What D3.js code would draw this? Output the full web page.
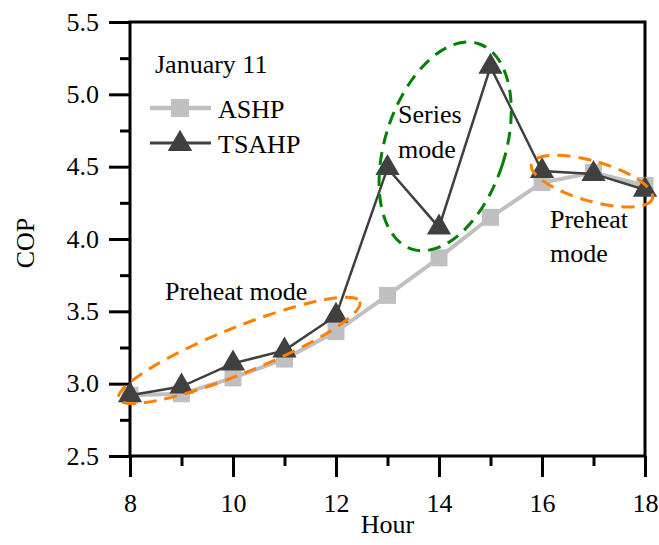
<!DOCTYPE html>
<html>
<head>
<meta charset="utf-8">
<script src="https://cdn.jsdelivr.net/npm/d3@7"></script>
<style>
  body { margin: 0; background: #fff; }
  #chart-area { width: 659px; height: 545px; }
  text { font-family: "Liberation Serif", "Times New Roman", serif; fill: #000; }
</style>
</head>
<body>
<div id="chart-area"></div>
<script>

// Hours on the x axis
let hours = [8, 9, 10, 11, 12, 13, 14, 15, 16, 17, 18];

// COP values
let ashpCOP  = [2.92, 2.93, 3.04, 3.17, 3.36, 3.61, 3.87, 4.15, 4.39, 4.46, 4.37];
let tsahpCOP = [2.92, 2.98, 3.14, 3.23, 3.47, 4.49, 4.08, 5.19, 4.47, 4.45, 4.34];

// tick labels
let xTickValues = [8, 10, 12, 14, 16, 18];
let yTickValues = [2.5, 3.0, 3.5, 4.0, 4.5, 5.0, 5.5];

// mode annotations (centre in data units)
let modeLabels = ["Preheat mode", "Series mode", "Preheat mode"];
let modeCentreHour = [10.12, 14.12, 16.97];
let modeCentreCOP  = [3.23, 4.64, 4.40];


class LineChart {

constructor(parentElement) {
    this.parentElement = parentElement;
    this.series = [
        {name: "ASHP", values: ashpCOP, color: "#c0c0c0", width: 4, marker: "square"},
        {name: "TSAHP", values: tsahpCOP, color: "#404040", width: 2.5, marker: "triangle"}
    ];
}

	initVis(){
		let vis = this;

		vis.margin = {top: 22, right: 14, bottom: 89, left: 130};
		vis.width = 659 - vis.margin.left - vis.margin.right;
		vis.height = 545 - vis.margin.top - vis.margin.bottom;

		vis.svg = d3.select("#" + vis.parentElement).append("svg")
			.attr("width", 659)
			.attr("height", 545)
			.append("g")
			.attr("transform", "translate(" + vis.margin.left + "," + vis.margin.top + ")");

		// Scales
		vis.x = d3.scaleLinear()
			.domain([8, 18])
			.range([0, vis.width]);

		vis.y = d3.scaleLinear()
			.domain([2.5, 5.5])
			.range([vis.height, 0]);

		vis.updateVis();
	}

	updateVis(){
		let vis = this;

		// minor ticks (no labels)
		let xMinor = d3.axisBottom(vis.x).tickValues(d3.range(9, 18, 2)).tickSize(10).tickFormat("");
		let yMinor = d3.axisLeft(vis.y).tickValues(d3.range(2.75, 5.5, 0.5)).tickSize(10).tickFormat("");

		// major ticks
		let xAxis = d3.axisBottom(vis.x).tickValues(xTickValues).tickSize(21).tickPadding(17).tickFormat(d3.format("d"));
		let yAxis = d3.axisLeft(vis.y).tickValues(yTickValues).tickSize(21).tickPadding(10).tickFormat(d3.format(".1f"));

		vis.svg.append("g").attr("class", "axis").attr("transform", "translate(0," + vis.height + ")").call(xMinor);
		vis.svg.append("g").attr("class", "axis").call(yMinor);
		vis.svg.append("g").attr("class", "axis").attr("transform", "translate(0," + vis.height + ")").call(xAxis);
		vis.svg.append("g").attr("class", "axis").call(yAxis);

		vis.svg.selectAll(".axis path").remove();
		vis.svg.selectAll(".axis line").attr("stroke", "#000").attr("stroke-width", 3);
		vis.svg.selectAll(".axis text").attr("font-size", 26).attr("fill", "#000")
			.style("font-family", "'Liberation Serif', 'Times New Roman', serif");

		// frame
		vis.svg.append("rect")
			.attr("x", 0).attr("y", 0)
			.attr("width", vis.width).attr("height", vis.height)
			.attr("fill", "none").attr("stroke", "#000").attr("stroke-width", 3);

		// axis titles
		vis.svg.append("text")
			.attr("x", vis.width / 2).attr("y", vis.height + 77)
			.attr("text-anchor", "middle").attr("font-size", 26)
			.text("Hour");

		vis.svg.append("text")
			.attr("transform", "translate(-96," + (vis.height / 2 + 4) + ") rotate(-90)")
			.attr("text-anchor", "middle").attr("font-size", 26)
			.text("COP");

		// series
		let line = d3.line()
			.x((d, i) => vis.x(hours[i]))
			.y(d => vis.y(d));

		vis.series.forEach(s => {
			vis.svg.append("path")
				.datum(s.values)
				.attr("fill", "none")
				.attr("stroke", s.color)
				.attr("stroke-width", s.width)
				.attr("d", line);

			let sym = s.marker === "square"
				? d3.symbol().type(d3.symbolSquare).size(17 * 17)
				: d3.symbol().type(d3.symbolTriangle).size(255);

			vis.svg.selectAll(".m-" + s.name)
				.data(s.values)
				.enter().append("path")
				.attr("class", "m-" + s.name)
				.attr("d", sym)
				.attr("fill", s.color)
				.attr("transform", (d, i) => "translate(" + vis.x(hours[i]) + "," + vis.y(d) + ")");
		});

		// legend
		let legend = vis.svg.append("g").attr("transform", "translate(20,0)");
		legend.append("text").attr("x", 5).attr("y", 51).attr("font-size", 26).text("January 11");

		vis.series.forEach((s, i) => {
			let ly = 86 + i * 35;
			legend.append("line")
				.attr("x1", 0).attr("x2", 61)
				.attr("y1", ly).attr("y2", ly)
				.attr("stroke", s.color).attr("stroke-width", s.width + 0.5);
			let sym = s.marker === "square"
				? d3.symbol().type(d3.symbolSquare).size(18 * 18)
				: d3.symbol().type(d3.symbolTriangle).size(260);
			legend.append("path")
				.attr("d", sym)
				.attr("fill", s.color)
				.attr("transform", "translate(30," + (ly + (s.marker === "triangle" ? 1 : 0)) + ")");
			legend.append("text")
				.attr("x", 68).attr("y", ly + 10)
				.attr("font-size", 26)
				.text(s.name);
		});

		// mode ellipses
		let ellipseShape = [
			{rx: 130, ry: 23, angle: -22, color: "#ff8000", dash: "13,8"},
			{rx: 60, ry: 108, angle: 18, color: "#008000", dash: "13,8"},
			{rx: 63, ry: 20, angle: 16, color: "#ff8000", dash: "13,8"}
		];

		ellipseShape.forEach((e, i) => {
			vis.svg.append("ellipse")
				.attr("cx", 0).attr("cy", 0)
				.attr("rx", e.rx).attr("ry", e.ry)
				.attr("transform", "translate(" + vis.x(modeCentreHour[i]) + "," + vis.y(modeCentreCOP[i]) + ") rotate(" + e.angle + ")")
				.attr("fill", "none")
				.attr("stroke", e.color)
				.attr("stroke-width", 3)
				.attr("stroke-dasharray", e.dash);
		});

		// mode labels
		vis.svg.append("text").attr("x", 35).attr("y", 278).attr("font-size", 26).text(modeLabels[0]);

		let series = vis.svg.append("text").attr("x", 268).attr("y", 101).attr("font-size", 26);
		series.append("tspan").attr("x", 268).text(modeLabels[1].split(" ")[0]);
		series.append("tspan").attr("x", 268).attr("dy", 35).text(modeLabels[1].split(" ")[1]);

		let preheat = vis.svg.append("text").attr("x", 420).attr("y", 206).attr("font-size", 26);
		preheat.append("tspan").attr("x", 420).text(modeLabels[2].split(" ")[0]);
		preheat.append("tspan").attr("x", 420).attr("dy", 34).text(modeLabels[2].split(" ")[1]);
	}
}

let chart = new LineChart("chart-area");
chart.initVis();

</script>
</body>
</html>
